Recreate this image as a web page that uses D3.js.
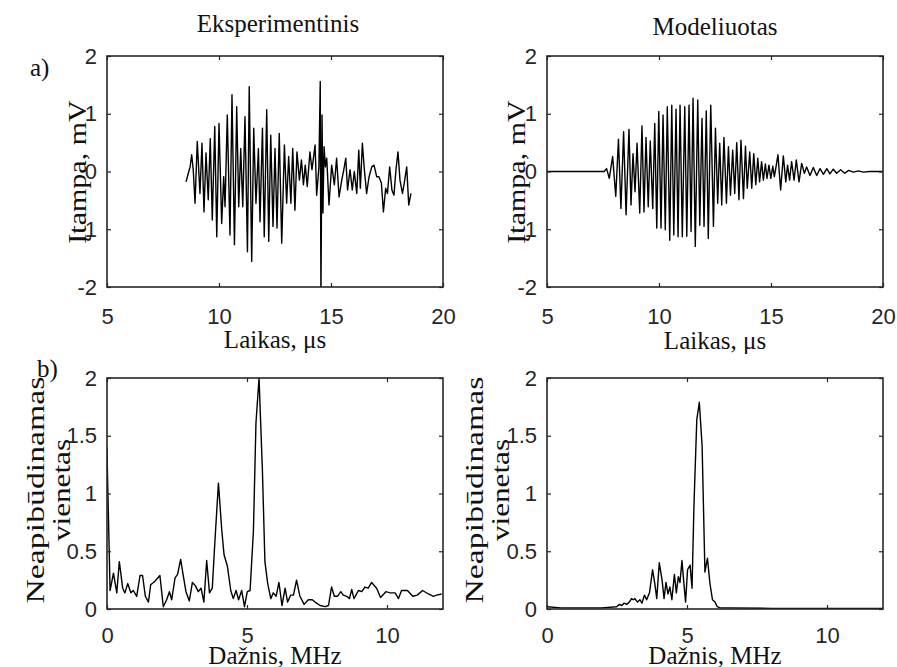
<!DOCTYPE html>
<html><head><meta charset="utf-8">
<script src="https://cdn.jsdelivr.net/npm/d3@7"></script>
<style>
body{margin:0;background:#fff;}
svg{display:block;}
.tick text{font-family:"Liberation Sans",Arial,sans-serif;font-size:22px;fill:#262626;}
.lbl{font-family:"Liberation Serif","Times New Roman",serif;fill:#111;}
</style></head>
<body><svg id="c" width="897" height="667"></svg>
<script>
// ---------- data ----------
const titles = ["Eksperimentinis", "Modeliuotas"];
const panelTags = ["a)", "b)"];
const timeTicks = [5, 10, 15, 20];
const voltTicks = [-2, -1, 0, 1, 2];
const freqTicks = [0, 5, 10];
const ampTicks = [0, 0.5, 1, 1.5, 2];

// Experimental time signal (µs, mV)
const expTime = [8.53,8.63,8.71,8.78,8.85,8.93,9.03,9.15,9.24,9.33,9.42,9.52,9.61,9.70,9.81,9.90,10.00,10.12,10.21,10.27,10.37,10.49,10.58,10.69,10.79,10.88,10.97,11.06,11.16,11.27,11.35,11.46,11.55,11.65,11.76,11.83,11.94,12.02,12.13,12.22,12.31,12.41,12.50,12.59,12.69,12.80,12.92,13.02,13.11,13.21,13.29,13.39,13.48,13.59,13.68,13.77,13.85,13.94,14.06,14.15,14.29,14.36,14.46,14.52,14.55,14.60,14.64,14.69,14.75,14.81,14.91,15.03,15.15,15.25,15.36,15.48,15.57,15.66,15.74,15.85,15.95,16.04,16.15,16.24,16.31,16.40,16.49,16.59,16.70,16.82,16.92,17.04,17.14,17.25,17.34,17.44,17.52,17.62,17.72,17.81,17.90,17.99,18.08,18.19,18.27,18.38,18.47,18.57];
const expVolt = [-0.18,-0.03,0.08,0.29,0.03,-0.55,0.52,-0.38,0.49,-0.70,0.32,-0.49,0.57,-0.84,0.78,-1.13,0.83,-0.90,-0.09,-0.61,0.98,-1.10,1.33,-1.27,1.12,-0.61,0.40,-0.61,0.95,-1.39,1.47,-1.56,0.75,-0.55,0.40,-0.87,0.75,-1.13,1.07,-1.21,0.63,-0.95,0.40,-0.98,0.66,-1.24,0.46,-0.55,0.26,-0.55,0.40,-0.67,0.34,-0.15,0.20,-0.23,0.11,-0.26,0.34,0.03,0.46,-0.41,0.08,1.56,-2.2,0.98,-0.72,0.43,0.08,0.23,-0.58,0.11,-0.23,0.23,-0.44,-0.15,0.03,0.23,-0.32,0.03,-0.32,0.00,-0.38,0.37,-0.29,0.49,0.03,-0.38,-0.09,0.08,0.11,-0.09,-0.09,-0.20,-0.70,-0.29,-0.38,0.08,-0.32,-0.41,0.03,0.34,-0.15,-0.38,-0.20,0.08,-0.58,-0.38];

// Modelled time signal (µs, mV)
const modTime = [5.00,7.55,7.66,7.78,7.93,8.07,8.19,8.30,8.42,8.53,8.66,8.75,8.84,8.93,9.02,9.14,9.24,9.33,9.42,9.52,9.61,9.72,9.81,9.90,9.99,10.09,10.18,10.28,10.37,10.48,10.57,10.66,10.76,10.85,10.94,11.04,11.15,11.24,11.34,11.43,11.52,11.62,11.73,11.82,11.92,12.01,12.11,12.20,12.31,12.43,12.52,12.62,12.71,12.80,12.90,13.01,13.10,13.19,13.29,13.38,13.47,13.57,13.66,13.77,13.86,13.94,14.05,14.14,14.23,14.32,14.41,14.49,14.58,14.66,14.75,14.82,14.91,14.99,15.08,15.15,15.22,15.31,15.43,15.55,15.66,15.74,15.83,15.92,16.03,16.13,16.25,16.37,16.49,16.59,16.74,16.89,17.04,17.19,17.34,17.49,17.63,17.78,17.93,18.11,18.29,18.47,18.68,18.90,19.12,19.40,20.00];
const modVolt = [0,0,0.05,-0.12,0.26,-0.43,0.56,-0.64,0.69,-0.75,0.73,-0.58,0.31,-0.35,0.49,-0.72,0.79,-0.70,0.59,-0.61,0.53,-0.64,0.83,-0.98,1.04,-0.98,0.98,-1.01,1.12,-1.19,1.15,-1.10,1.08,-1.13,1.15,-1.13,1.12,-1.12,1.15,-1.04,1.27,-1.30,1.24,-0.93,0.92,-0.95,1.05,-1.16,1.15,-0.95,0.75,-0.55,0.49,-0.58,0.59,-0.55,0.43,-0.41,0.37,-0.38,0.50,-0.49,0.54,-0.47,0.44,-0.29,0.34,-0.29,0.31,-0.23,0.23,-0.18,0.17,-0.15,0.13,-0.12,0.11,-0.12,0.09,-0.09,0.07,0.29,-0.32,0.27,-0.18,0.11,-0.15,0.17,-0.15,0.20,-0.18,0.14,-0.03,0.08,-0.07,0.07,-0.07,0.05,-0.05,0.05,-0.04,0.04,-0.03,0.03,-0.03,0.02,-0.01,0.01,-0.01,0,0];

// Experimental spectrum (MHz, a.u.)
const expFreq = [0.00,0.01,0.11,0.23,0.35,0.44,0.56,0.64,0.74,0.85,0.94,1.06,1.18,1.27,1.37,1.48,1.56,1.71,1.89,2.01,2.13,2.23,2.31,2.43,2.52,2.63,2.73,2.82,2.94,3.05,3.16,3.26,3.36,3.46,3.56,3.66,3.76,3.86,3.98,4.10,4.18,4.30,4.42,4.51,4.61,4.70,4.81,4.91,5.01,5.11,5.23,5.32,5.43,5.55,5.64,5.74,5.85,5.94,6.04,6.14,6.25,6.36,6.45,6.56,6.66,6.77,6.89,7.04,7.19,7.33,7.43,7.61,7.79,7.91,8.02,8.12,8.23,8.35,8.44,8.56,8.66,8.74,8.82,8.98,9.10,9.21,9.33,9.45,9.63,9.77,9.96,10.11,10.29,10.41,10.52,10.73,10.92,11.08,11.27,11.48,11.66,11.77,11.95];
const expAmp = [1.40,1.25,0.16,0.31,0.14,0.41,0.18,0.14,0.22,0.14,0.16,0.11,0.29,0.29,0.11,0.06,0.21,0.24,0.29,0.02,0.08,0.15,0.08,0.27,0.30,0.43,0.28,0.15,0.07,0.23,0.20,0.15,0.18,0.06,0.42,0.14,0.18,0.61,1.09,0.68,0.47,0.37,0.16,0.09,0.16,0.08,0.16,0.02,0.15,0.16,0.68,1.61,2.00,1.20,0.41,0.22,0.09,0.14,0.11,0.23,0.03,0.18,0.06,0.12,0.12,0.25,0.11,0.04,0.08,0.08,0.06,0.03,0.02,0.03,0.19,0.11,0.11,0.15,0.12,0.11,0.09,0.17,0.09,0.16,0.15,0.19,0.18,0.23,0.18,0.10,0.15,0.14,0.14,0.09,0.16,0.16,0.11,0.12,0.16,0.13,0.11,0.12,0.13];

// Modelled spectrum (MHz, a.u.)
const modFreq = [0.00,0.50,1.00,1.50,1.95,2.49,2.58,2.67,2.75,2.85,2.94,3.02,3.08,3.14,3.23,3.32,3.39,3.48,3.56,3.66,3.77,3.85,3.92,4.01,4.11,4.18,4.25,4.32,4.39,4.46,4.55,4.62,4.69,4.75,4.82,4.89,4.95,5.02,5.11,5.18,5.25,5.35,5.44,5.54,5.64,5.73,5.82,5.91,6.00,6.08,6.18,6.36,6.54,8.00,10.00,12.00];
const modAmp = [0.02,0.01,0.01,0.01,0.01,0.02,0.04,0.03,0.05,0.04,0.06,0.09,0.08,0.09,0.06,0.08,0.05,0.12,0.08,0.14,0.34,0.22,0.09,0.40,0.25,0.09,0.23,0.13,0.19,0.08,0.30,0.14,0.28,0.23,0.42,0.22,0.06,0.34,0.38,0.18,0.91,1.64,1.79,1.41,0.32,0.44,0.22,0.08,0.06,0.02,0.01,0.01,0.01,0.005,0.005,0.005];

// ---------- layout ----------
const svg = d3.select("#c");
const cols = [{x0:107,x1:443},{x0:547,x1:883}];
const rows = [{y0:56,y1:287,pad:21},{y0:378,y1:609,pad:18}];
const ink = "#262626";

const panels = [
  {c:0,r:0,xd:[5,20],yd:[-2,2],xt:timeTicks,yt:voltTicks,xs:expTime,ys:expVolt},
  {c:1,r:0,xd:[5,20],yd:[-2,2],xt:timeTicks,yt:voltTicks,xs:modTime,ys:modVolt},
  {c:0,r:1,xd:[0,12],yd:[0,2],xt:freqTicks,yt:ampTicks,xs:expFreq,ys:expAmp},
  {c:1,r:1,xd:[0,12],yd:[0,2],xt:freqTicks,yt:ampTicks,xs:modFreq,ys:modAmp}
];

const fmt = d => String(d);
panels.forEach((p,i)=>{
  const C=cols[p.c], R=rows[p.r];
  const x=d3.scaleLinear().domain(p.xd).range([C.x0,C.x1]);
  const y=d3.scaleLinear().domain(p.yd).range([R.y1,R.y0]);
  svg.append("clipPath").attr("id","cp"+i).append("rect")
    .attr("x",C.x0).attr("y",R.y0).attr("width",C.x1-C.x0).attr("height",R.y1-R.y0);
  const g=svg.append("g");
  const pts=p.xs.map((v,k)=>[v,p.ys[k]]);
  g.append("path").datum(pts).attr("clip-path","url(#cp"+i+")")
    .attr("fill","none").attr("stroke","#000").attr("stroke-width",1.4)
    .attr("stroke-linejoin","round")
    .attr("d",d3.line().x(d=>x(d[0])).y(d=>y(d[1])));
  const ab=d3.axisBottom(x).tickValues(p.xt).tickFormat(fmt).tickSizeInner(-4).tickSizeOuter(0).tickPadding(R.pad);
  const al=d3.axisLeft(y).tickValues(p.yt).tickFormat(fmt).tickSizeInner(-4).tickSizeOuter(0).tickPadding(10);
  const at=d3.axisTop(x).tickValues(p.xt).tickFormat("").tickSizeInner(-4).tickSizeOuter(0);
  const ar=d3.axisRight(y).tickValues(p.yt).tickFormat("").tickSizeInner(-4).tickSizeOuter(0);
  [[ab,`translate(0,${R.y1})`],[al,`translate(${C.x0},0)`],[at,`translate(0,${R.y0})`],[ar,`translate(${C.x1},0)`]]
   .forEach(([a,t])=>{
     const ga=g.append("g").attr("transform",t).call(a);
     ga.select(".domain").remove();
     ga.selectAll(".tick line").attr("stroke",ink).attr("stroke-width",1.2);
   });
  g.append("rect").attr("x",C.x0).attr("y",R.y0).attr("width",C.x1-C.x0).attr("height",R.y1-R.y0)
   .attr("fill","none").attr("stroke",ink).attr("stroke-width",1.6);
});

// titles
svg.append("text").attr("class","lbl").attr("x",278).attr("y",32).attr("text-anchor","middle").attr("font-size",25).text(titles[0]);
svg.append("text").attr("class","lbl").attr("x",715).attr("y",35).attr("text-anchor","middle").attr("font-size",25).text(titles[1]);
// panel tags
svg.append("text").attr("class","lbl").attr("x",30).attr("y",76).attr("font-size",25).text(panelTags[0]);
svg.append("text").attr("class","lbl").attr("x",37).attr("y",377).attr("font-size",25).text(panelTags[1]);

// x labels
[[275,348,"Laikas, μs"],[715,349,"Laikas, μs"],[275,664,"Dažnis, MHz"],[715,664,"Dažnis, MHz"]].forEach(([cx,cy,t])=>{
  svg.append("text").attr("class","lbl").attr("x",cx).attr("y",cy).attr("text-anchor","middle").attr("font-size",25).text(t);
});
// y labels (vertically stretched like the reference)
function vlabel(cx,cy,t,fs,sx){
  svg.append("text").attr("class","lbl")
    .attr("transform",`translate(${cx},${cy}) rotate(-90) scale(${sx},1)`)
    .attr("text-anchor","middle").attr("font-size",fs).text(t);
}
vlabel(86,172,"Įtampa, mV",25,1.2);
vlabel(525,172,"Įtampa, mV",25,1.2);
[[44,70,490],[483,509,490]].forEach(([x1,x2,cy])=>{
  vlabel(x1,cy,"Neapibūdinamas",26,1.3);
  vlabel(x2,cy,"vienetas",26,1.2);
});
</script></body></html>
